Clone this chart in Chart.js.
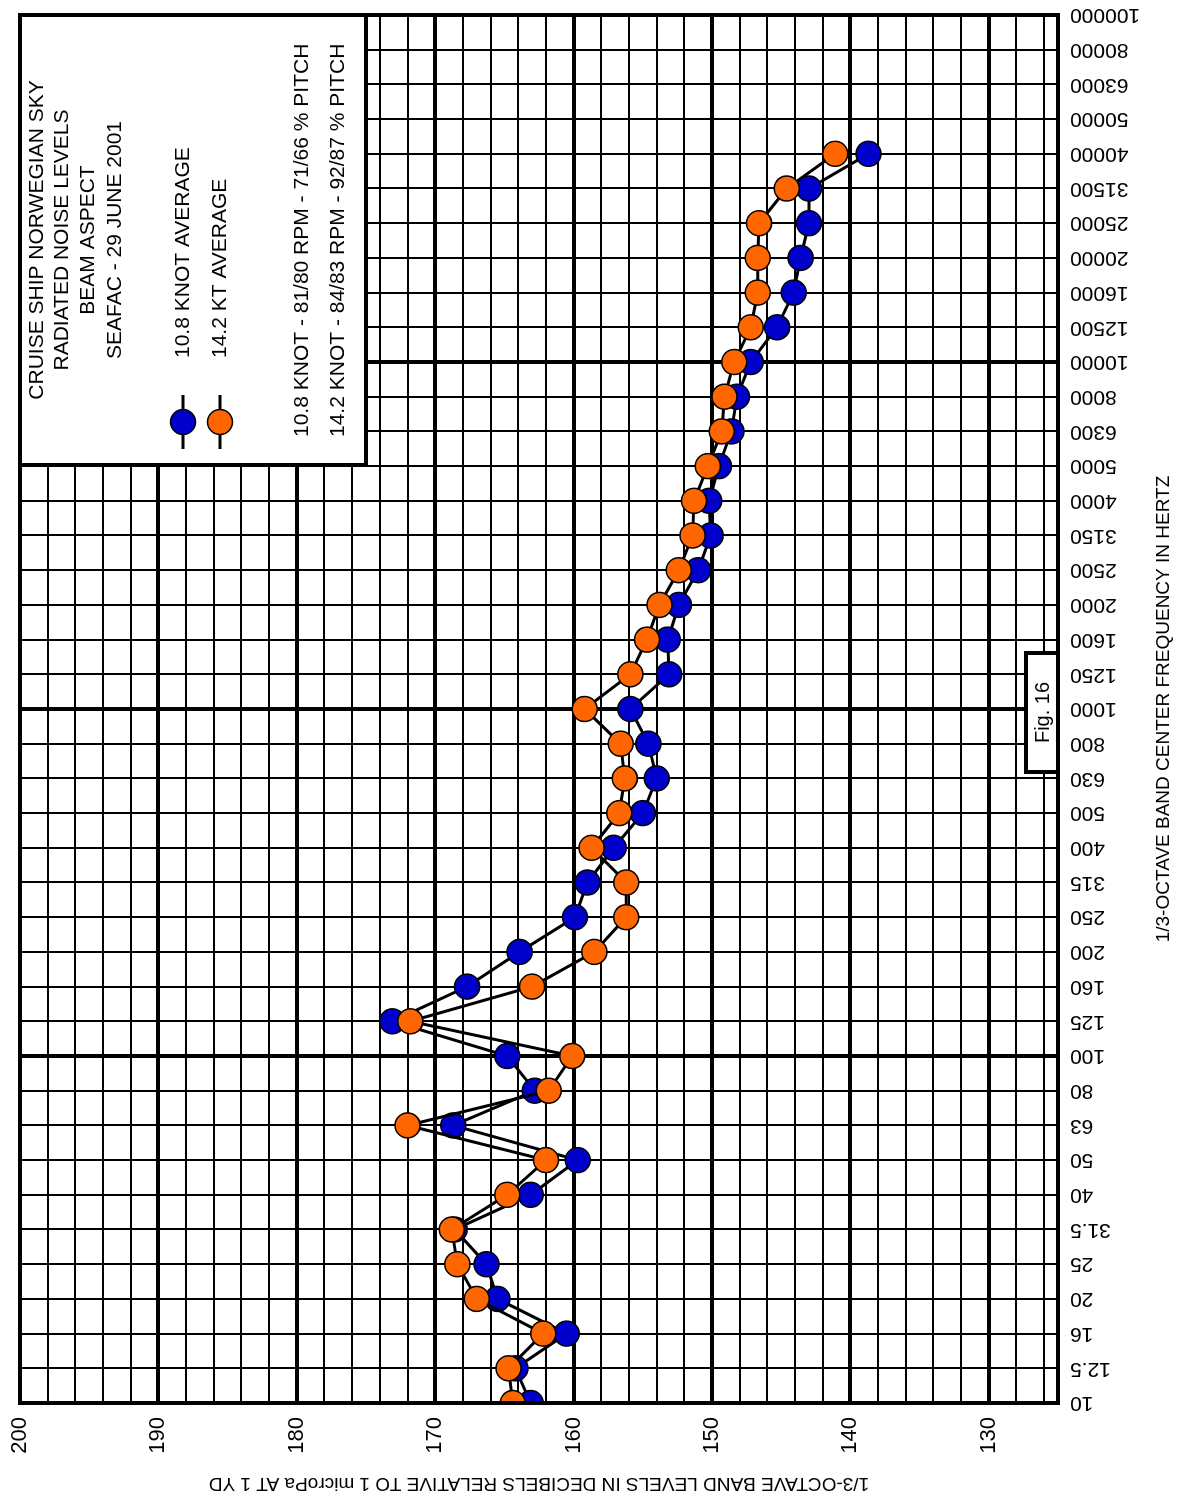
<!DOCTYPE html>
<html>
<head>
<meta charset="utf-8">
<title>Cruise Ship Norwegian Sky - Radiated Noise Levels</title>
<script src="https://cdn.jsdelivr.net/npm/chart.js@4.4.1/dist/chart.umd.min.js"></script>
<style>
  html, body { margin: 0; padding: 0; background: #fff; }
  body { width: 1178px; height: 1499px; overflow: hidden; position: relative; }
  /* the sheet is printed sideways: draw it landscape, then turn it a quarter left */
  #sheet {
    position: absolute; left: 0; top: 0; width: 1499px; height: 1178px;
    transform-origin: 0 0; transform: translateY(1499px) rotate(-90deg);
  }
</style>
</head>
<body>
<div id="sheet"><canvas id="noise-chart" width="1499" height="1178"></canvas></div>
<script>
// 1/3-octave band centre frequencies (Hz)
const freqLabels = ['10', '12.5', '16', '20', '25', '31.5', '40', '50', '63', '80',
  '100', '125', '160', '200', '250', '315', '400', '500', '630', '800',
  '1000', '1250', '1600', '2000', '2500', '3150', '4000', '5000', '6300', '8000',
  '10000', '12500', '16000', '20000', '25000', '31500', '40000', '50000', '63000', '80000',
  '100000'];

// band levels, dB re 1 microPa at 1 yd
const knot108 = [163.1, 164.2, 160.5, 165.5, 166.3, 168.6, 163.1, 159.7, 168.7, 162.8,
  164.8, 173.1, 167.7, 163.9, 159.9, 159.0, 157.1, 155.0, 154.0, 154.6,
  155.9, 153.1, 153.2, 152.4, 151.0, 150.1, 150.2, 149.5, 148.6, 148.2,
  147.2, 145.3, 144.1, 143.6, 143.0, 143.0, 138.7, null, null, null, null];

const kt142 = [164.4, 164.7, 162.2, 167.0, 168.4, 168.8, 164.8, 162.0, 172.0, 161.8,
  160.1, 171.8, 163.0, 158.5, 156.2, 156.2, 158.7, 156.7, 156.3, 156.6,
  159.2, 155.9, 154.7, 153.8, 152.4, 151.4, 151.3, 150.3, 149.3, 149.1,
  148.4, 147.2, 146.7, 146.7, 146.6, 144.6, 141.1, null, null, null, null];

const dbLabels = [130, 140, 150, 160, 170, 180, 190, 200];

const titleLines = ['CRUISE SHIP NORWEGIAN SKY', 'RADIATED NOISE LEVELS', 'BEAM ASPECT', 'SEAFAC - 29 JUNE 2001'];
const seriesNames = ['10.8 KNOT AVERAGE', '14.2 KT AVERAGE'];
const noteLines = ['10.8 KNOT - 81/80 RPM - 71/66 % PITCH', '14.2 KNOT - 84/83 RPM - 92/87 % PITCH'];
const figLabel = 'Fig. 16';

const BLUE = '#0000cc';
const ORANGE = '#ff6600';
const FONT = '"Liberation Sans", Arial, sans-serif';

Chart.defaults.font.family = FONT;
Chart.defaults.color = '#000';

// frame, legend box and figure tag
const sheetPlugin = {
  id: 'sheet',
  afterDraw(chart) {
    const { ctx, chartArea: a } = chart;
    ctx.save();
    ctx.strokeStyle = '#000';
    ctx.lineWidth = 4;
    ctx.strokeRect(a.left, a.top, a.right - a.left, a.bottom - a.top);

    const bw = 450, bh = 346;
    const bx = a.right - bw, by = a.top;
    ctx.fillStyle = '#fff';
    ctx.fillRect(bx, by, bw, bh);
    ctx.strokeRect(bx, by, bw, bh);

    ctx.fillStyle = '#000';
    ctx.font = '21px ' + FONT;
    ctx.textBaseline = 'middle';
    ctx.textAlign = 'center';
    [17, 42, 68, 95].forEach((dy, i) => ctx.fillText(titleLines[i], bx + bw / 2, by + dy));

    const rows = [163, 200];
    chart.data.datasets.forEach((ds, i) => {
      const cx = bx + 43, cy = by + rows[i];
      ctx.lineWidth = 3;
      ctx.beginPath();
      ctx.moveTo(cx - 27, cy);
      ctx.lineTo(cx + 27, cy);
      ctx.stroke();
      ctx.beginPath();
      ctx.arc(cx, cy, 12.5, 0, Math.PI * 2);
      ctx.fillStyle = ds.pointBackgroundColor;
      ctx.fill();
      ctx.lineWidth = 1.5;
      ctx.stroke();
      ctx.fillStyle = '#000';
      ctx.textAlign = 'left';
      ctx.fillText(seriesNames[i], bx + 107, cy);
    });

    ctx.textAlign = 'left';
    [282, 318].forEach((dy, i) => ctx.fillText(noteLines[i], bx + 28, by + dy));

    // "Fig. 16" tag sitting on the lower edge
    const fx = 727, fw = 119, fh = 32, fy = a.bottom - fh;
    ctx.lineWidth = 4;
    ctx.fillStyle = '#fff';
    ctx.fillRect(fx, fy, fw, fh);
    ctx.strokeRect(fx, fy, fw, fh);
    ctx.fillStyle = '#000';
    ctx.font = '20px ' + FONT;
    ctx.textAlign = 'center';
    ctx.fillText(figLabel, fx + fw / 2, fy + fh / 2 + 1);
    ctx.restore();
  }
};

const pointStyle = {
  borderColor: '#000',
  borderWidth: 3,
  pointBorderColor: '#000',
  pointBorderWidth: 1.5,
  pointRadius: 12.5,
  pointHoverRadius: 12.5,
  tension: 0,
  clip: 0
};

new Chart(document.getElementById('noise-chart'), {
  type: 'line',
  data: {
    labels: freqLabels,
    datasets: [
      { label: seriesNames[0], data: knot108, pointBackgroundColor: BLUE, order: 1, ...pointStyle },
      { label: seriesNames[1], data: kt142, pointBackgroundColor: ORANGE, order: 0, ...pointStyle }
    ]
  },
  options: {
    responsive: false,
    animation: false,
    devicePixelRatio: 1,
    layout: { padding: { left: 0, right: 15, top: 20, bottom: 0 } },
    plugins: {
      legend: { display: false },
      tooltip: { enabled: false }
    },
    scales: {
      x: {
        type: 'category',
        offset: false,
        afterFit(scale) {
          scale.height = 120;
          scale.paddingLeft = 0;
          scale.paddingRight = 0;
        },
        grid: {
          color: '#000',
          lineWidth: c => (c.index % 10 === 0 ? 4 : 2),
          drawTicks: false
        },
        border: { display: false },
        ticks: {
          autoSkip: false,
          minRotation: 90,
          maxRotation: 90,
          padding: 12,
          color: '#000',
          font: { size: 21 }
        },
        title: {
          display: true,
          text: '1/3-OCTAVE BAND CENTER FREQUENCY IN HERTZ',
          color: '#000',
          font: { size: 19 },
          padding: { top: 0, bottom: 3 }
        }
      },
      y: {
        type: 'linear',
        min: 125,
        max: 200,
        afterBuildTicks(scale) {
          scale.ticks = [];
          for (let v = 126; v <= 200; v += 2) scale.ticks.push({ value: v });
        },
        afterFit(scale) {
          scale.width = 96;
          scale.paddingTop = 0;
          scale.paddingBottom = 0;
        },
        grid: {
          color: '#000',
          lineWidth: c => (c.tick && c.tick.value % 10 === 0 ? 4 : 2),
          drawTicks: false
        },
        border: { display: false },
        ticks: {
          autoSkip: false,
          padding: 14,
          color: '#000',
          font: { size: 22 },
          callback: v => (dbLabels.includes(v) ? String(v) : '')
        },
        title: {
          display: true,
          text: '1/3-OCTAVE BAND LEVELS IN DECIBELS RELATIVE TO 1 microPa AT 1 YD',
          color: '#000',
          font: { size: 19 },
          padding: { top: 4, bottom: 0 }
        }
      }
    }
  },
  plugins: [sheetPlugin]
});
</script>
</body>
</html>
